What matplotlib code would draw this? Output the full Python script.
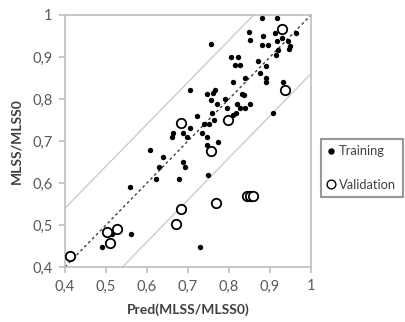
import matplotlib
matplotlib.use("Agg")
import matplotlib.pyplot as plt
from matplotlib.lines import Line2D
import numpy as np

plt.rcParams['font.family'] = ['Lato', 'DejaVu Sans']

train_x = [0.880, 0.917, 0.849, 0.851, 0.883, 0.912, 0.963, 0.929, 0.944, 0.880,
           0.895, 0.917, 0.949, 0.920, 0.915, 0.946, 0.756, 0.805, 0.822, 0.815,
           0.827, 0.871, 0.890, 0.876, 0.890, 0.890, 0.810, 0.839, 0.932, 0.766,
           0.761, 0.832, 0.705, 0.790, 0.746, 0.756, 0.771, 0.795, 0.820, 0.837,
           0.827, 0.839, 0.851, 0.907, 0.759, 0.722, 0.817, 0.810, 0.763, 0.739,
           0.751, 0.705, 0.663, 0.661, 0.688, 0.698, 0.734, 0.746, 0.773, 0.746,
           0.607, 0.639, 0.629, 0.688, 0.693, 0.622, 0.678, 0.559, 0.749, 0.561,
           0.515, 0.490, 0.729]
train_y = [0.993, 0.993, 0.960, 0.940, 0.950, 0.957, 0.957, 0.945, 0.938, 0.929,
           0.929, 0.938, 0.926, 0.917, 0.905, 0.919, 0.931, 0.900, 0.900, 0.881,
           0.881, 0.890, 0.879, 0.862, 0.850, 0.840, 0.840, 0.850, 0.840, 0.821,
           0.814, 0.812, 0.821, 0.800, 0.812, 0.798, 0.788, 0.779, 0.788, 0.810,
           0.779, 0.779, 0.788, 0.767, 0.767, 0.760, 0.767, 0.762, 0.750, 0.740,
           0.740, 0.731, 0.719, 0.710, 0.719, 0.710, 0.719, 0.710, 0.698, 0.690,
           0.679, 0.662, 0.638, 0.650, 0.638, 0.610, 0.610, 0.590, 0.619, 0.479,
           0.479, 0.448, 0.448]

valid_x = [0.929, 0.937, 0.683, 0.798, 0.756, 0.683, 0.671, 0.768, 0.844, 0.851,
           0.859, 0.502, 0.527, 0.510, 0.412]
valid_y = [0.967, 0.821, 0.743, 0.750, 0.676, 0.538, 0.502, 0.552, 0.569, 0.569,
           0.569, 0.483, 0.490, 0.457, 0.426]

ticks = [0.4, 0.5, 0.6, 0.7, 0.8, 0.9, 1.0]
tick_labels = ['0,4', '0,5', '0,6', '0,7', '0,8', '0,9', '1']
band = 0.14

fig = plt.figure(figsize=(4.06, 3.22), dpi=100)
ax = fig.add_axes([65/406, 1-267/322, 246/406, 252/322])

line_x = np.array([0.4, 1.0])
ax.plot(line_x, line_x + band, color='#cccccc', lw=1.0, zorder=1)
ax.plot(line_x, line_x - band, color='#cccccc', lw=1.0, zorder=1)
ax.plot(line_x, line_x, color='#404040', lw=1.0, ls=(0, (2, 2)), zorder=1)

ax.scatter(train_x, train_y, s=15, color='black', zorder=3, linewidths=0)
ax.scatter(valid_x, valid_y, s=46, facecolor='white', edgecolor='black', linewidths=1.3, zorder=4)

ax.set_xlim(0.4, 1.0)
ax.set_ylim(0.4, 1.0)
ax.set_xticks(ticks)
ax.set_xticklabels(tick_labels)
ax.set_yticks(ticks)
ax.set_yticklabels(tick_labels)
for s in ax.spines.values():
    s.set_color('#bfbfbf')
    s.set_linewidth(1.2)
ax.tick_params(direction='out', length=4, width=1.2, color='#bfbfbf',
               labelcolor='#595959', labelsize=10.5, pad=5)

ax.set_xlabel('Pred(MLSS/MLSS0)', fontsize=10, fontweight='bold', color='#404040', labelpad=7)
ax.set_ylabel('MLSS/MLSS0', fontsize=10, fontweight='bold', color='#404040', labelpad=7)

handles = [Line2D([], [], marker='o', ls='', color='black', markersize=3.6),
           Line2D([], [], marker='o', ls='', markerfacecolor='white', markeredgecolor='black',
                  markersize=6.3, markeredgewidth=1.0)]
leg = fig.legend(handles, ['Training', 'Validation'], loc='upper left',
                 bbox_to_anchor=(321/406, 1-139/322), fontsize=9.3, frameon=True,
                 fancybox=False, handlelength=0.6, handletextpad=0.3,
                 borderpad=0.5, labelspacing=1.65, borderaxespad=0)
leg.get_frame().set_edgecolor('#7f7f7f')
leg.get_frame().set_linewidth(1.5)
for t in leg.get_texts():
    t.set_color('#404040')

fig.savefig('out.png', dpi=100)
